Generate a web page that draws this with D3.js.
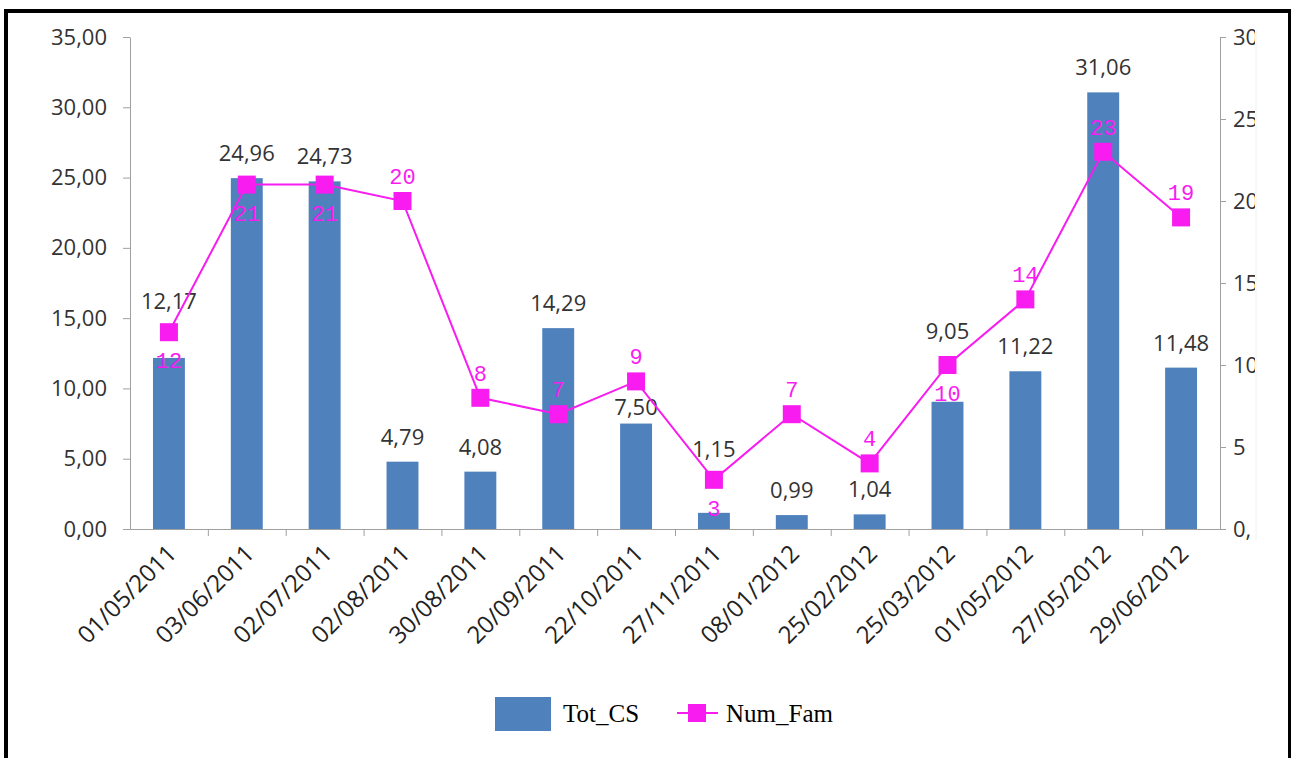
<!DOCTYPE html>
<meta charset="utf-8">
<title>Tot_CS / Num_Fam</title>
<script src="https://d3js.org/d3.v7.min.js"></script>
<style>
  body { margin: 0; background: #fff; }
  svg { display: block; }
  .tick text { font-family: "Open Sans", sans-serif; font-size: 22px; fill: #333; }
</style>
<body>
<svg width="1292" height="758"></svg>
<script>
// chart data
var dates = ["01/05/2011", "03/06/2011", "02/07/2011", "02/08/2011", "30/08/2011", "20/09/2011", "22/10/2011",
  "27/11/2011", "08/01/2012", "25/02/2012", "25/03/2012", "01/05/2012", "27/05/2012", "29/06/2012"];
var totCS = [12.17, 24.96, 24.73, 4.79, 4.08, 14.29, 7.50, 1.15, 0.99, 1.04, 9.05, 11.22, 31.06, 11.48];
var numFam = [12, 21, 21, 20, 8, 7, 9, 3, 7, 4, 10, 14, 23, 19];
var leftTicks = [0, 5, 10, 15, 20, 25, 30, 35];
var rightTicks = [0, 5, 10, 15, 20, 25, 30];

// label placement (manual nudges, like the original)
var barLabelNudge = [-32, 0, 0, 0, 0, 0, 8, -39, 0, 0, -46, 0, 0, 0];
var famLabelSide = ["b", "b", "b", "t", "t", "t", "t", "b", "t", "t", "b", "t", "t", "t"];

var svg = d3.select("svg");
var plotL = 130, plotR = 1220, plotT = 37, plotB = 529;
var axisColor = "#a0a0a0";
var barColor = "#4f81bd";
var lineColor = "#f81cf0";

// frame
svg.append("rect").attr("x", 4).attr("y", 9).attr("width", 1287).attr("height", 4).attr("fill", "#000");
svg.append("rect").attr("x", 4).attr("y", 9).attr("width", 4).attr("height", 749).attr("fill", "#000");
svg.append("rect").attr("x", 1288).attr("y", 9).attr("width", 3).attr("height", 749).attr("fill", "#000");

var x = d3.scaleBand().domain(dates).range([plotL, plotR]).padding(0);
var yL = d3.scaleLinear().domain([0, 35]).range([plotB, plotT]);
var yR = d3.scaleLinear().domain([0, 30]).range([plotB, plotT]);
var comma2 = function (d) { return d3.format(".2f")(d).replace(".", ","); };

// left axis
var gL = svg.append("g").attr("transform", "translate(" + plotL + ",0)")
  .call(d3.axisLeft(yL).tickValues(leftTicks).tickFormat(comma2).tickSize(7).tickSizeOuter(0).tickPadding(16));
gL.selectAll("path, line").attr("stroke", axisColor);

// right axis, labels cut off like the source image
svg.append("clipPath").attr("id", "rclip").append("rect")
  .attr("x", 1200).attr("y", 0).attr("width", 55).attr("height", 758);
var gR = svg.append("g").attr("clip-path", "url(#rclip)");
gR.append("g").attr("transform", "translate(" + plotR + ",0)")
  .call(d3.axisRight(yR).tickValues(rightTicks).tickFormat(function (d) { return d === 10 || d === 0 ? d + "," : d; })
    .tickSize(6).tickSizeOuter(0).tickPadding(7));
gR.selectAll("path, line").attr("stroke", axisColor);
svg.append("line").attr("x1", 1256).attr("x2", 1256).attr("y1", 30).attr("y2", 540)
  .attr("stroke", "#f0f0e8");

// x axis: tick marks on category boundaries
var xb = d3.scaleLinear().domain([0, dates.length]).range([plotL, plotR]);
var gX = svg.append("g").attr("transform", "translate(0," + plotB + ")")
  .call(d3.axisBottom(xb).ticks(dates.length).tickFormat("").tickSize(7).tickSizeOuter(0));
gX.selectAll("path, line").attr("stroke", axisColor);
gX.selectAll(".tick").filter(function (d) { return d === 0 || d === dates.length; }).remove();

svg.append("g").selectAll("text").data(dates).enter().append("text")
  .attr("transform", function (d) { return "translate(" + (x(d) + x.bandwidth() / 2 + 9) + "," + (plotB + 26) + ") rotate(-45)"; })
  .attr("text-anchor", "end")
  .attr("font-family", "Open Sans, sans-serif").attr("font-size", 24).attr("fill", "#222")
  .text(function (d) { return d; });

// bars
var bw = x.bandwidth() * 0.41;
svg.append("g").selectAll("rect").data(totCS).enter().append("rect")
  .attr("x", function (d, i) { return x(dates[i]) + (x.bandwidth() - bw) / 2; })
  .attr("y", function (d) { return yL(d); })
  .attr("width", bw)
  .attr("height", function (d) { return plotB - yL(d); })
  .attr("fill", barColor);

svg.append("g").selectAll("text").data(totCS).enter().append("text")
  .attr("x", function (d, i) { return x(dates[i]) + x.bandwidth() / 2; })
  .attr("y", function (d, i) { return yL(d) - 17 + barLabelNudge[i]; })
  .attr("text-anchor", "middle")
  .attr("font-family", "Open Sans, sans-serif").attr("font-size", 22).attr("fill", "#333")
  .text(comma2);

// line
var cx = function (d, i) { return x(dates[i]) + x.bandwidth() / 2; };
var line = d3.line().x(cx).y(function (d) { return yR(d); });
svg.append("path").datum(numFam).attr("d", line)
  .attr("fill", "none").attr("stroke", lineColor).attr("stroke-width", 2);

var ms = 18;
svg.append("g").selectAll("rect").data(numFam).enter().append("rect")
  .attr("x", function (d, i) { return cx(d, i) - ms / 2; })
  .attr("y", function (d) { return yR(d) - ms / 2; })
  .attr("width", ms).attr("height", ms)
  .attr("fill", lineColor);

svg.append("g").selectAll("text").data(numFam).enter().append("text")
  .attr("x", cx)
  .attr("y", function (d, i) { return yR(d) + (famLabelSide[i] === "t" ? -17 : 36); })
  .attr("text-anchor", "middle")
  .attr("font-family", "Liberation Mono, Courier New, monospace").attr("font-size", 22)
  .attr("fill", lineColor)
  .text(d3.format("d"));

// legend
var lg = svg.append("g");
lg.append("rect").attr("x", 495).attr("y", 697).attr("width", 56).attr("height", 34).attr("fill", barColor);
lg.append("text").attr("x", 563).attr("y", 722)
  .attr("font-family", "Liberation Serif, Times New Roman, serif").attr("font-size", 25).attr("fill", "#000")
  .text("Tot_CS");
lg.append("line").attr("x1", 677).attr("x2", 718).attr("y1", 713).attr("y2", 713)
  .attr("stroke", lineColor).attr("stroke-width", 2);
lg.append("rect").attr("x", 688).attr("y", 704).attr("width", 18).attr("height", 18).attr("fill", lineColor);
lg.append("text").attr("x", 726).attr("y", 722)
  .attr("font-family", "Liberation Serif, Times New Roman, serif").attr("font-size", 25).attr("fill", "#000")
  .text("Num_Fam");
</script>
</body>
